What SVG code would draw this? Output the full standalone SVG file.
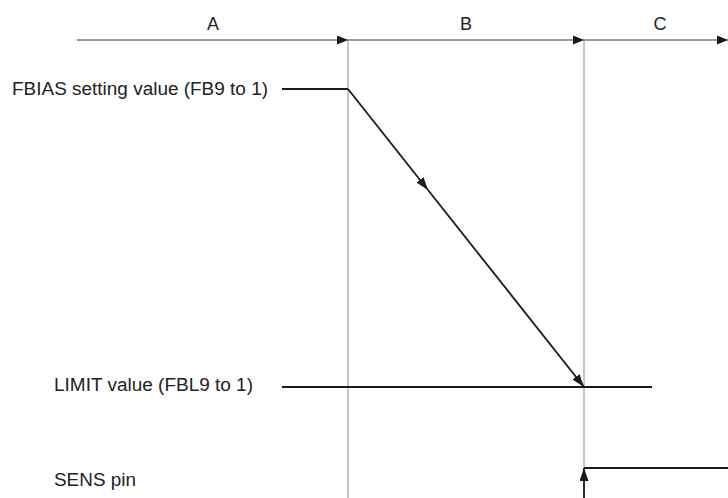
<svg xmlns="http://www.w3.org/2000/svg" width="728" height="498" viewBox="0 0 728 498">
<style>
text{font-family:"Liberation Sans",Arial,sans-serif;font-size:18px;fill:#222}
.axis{stroke:#333;stroke-width:1;fill:none}
.guide{stroke:#8c8c8c;stroke-width:1;fill:none}
.sig{stroke:#1a1a1a;stroke-width:1.8;fill:none}
</style>
<defs>
<marker id="ah" markerUnits="userSpaceOnUse" markerWidth="12" markerHeight="10" refX="11" refY="4.5" orient="auto">
<path d="M0,0 L11,4.5 L0,9 z" fill="#1a1a1a"/>
</marker>
<marker id="sh" markerUnits="userSpaceOnUse" markerWidth="14" markerHeight="10" refX="13" refY="4.5" orient="auto">
<path d="M0,0 L13,4.5 L0,9 z" fill="#1a1a1a"/>
</marker>
</defs>
<g id="timeline">
<text x="213" y="30" text-anchor="middle">A</text>
<text x="466" y="30" text-anchor="middle">B</text>
<text x="660" y="30" text-anchor="middle">C</text>
</g>
<g id="labels">
<text x="12" y="95" textLength="256" lengthAdjust="spacingAndGlyphs">FBIAS setting value (FB9 to 1)</text>
<text x="54" y="391" textLength="199" lengthAdjust="spacingAndGlyphs">LIMIT value (FBL9 to 1)</text>
<text x="54" y="486" textLength="82" lengthAdjust="spacingAndGlyphs">SENS pin</text>
</g>
<g id="connectors">
<line class="axis" x1="77" y1="40" x2="348" y2="40" marker-end="url(#ah)"/>
<line class="axis" x1="348" y1="40" x2="584" y2="40" marker-end="url(#ah)"/>
<line class="axis" x1="584" y1="40" x2="728" y2="40" marker-end="url(#ah)"/>
<line class="guide" x1="348" y1="40" x2="348" y2="498"/>
<line class="guide" x1="584" y1="40" x2="584" y2="498"/>
<polyline class="sig" points="282,89 348,89"/>
<line class="sig" x1="348" y1="89" x2="428" y2="190" marker-end="url(#sh)"/>
<line class="sig" x1="428" y1="190" x2="584" y2="387" marker-end="url(#sh)"/>
<line class="sig" x1="282" y1="387" x2="652" y2="387"/>
<line class="sig" x1="584" y1="498" x2="584" y2="468" marker-end="url(#sh)"/>
<line class="sig" x1="584" y1="468" x2="728" y2="468"/>
</g>
</svg>
